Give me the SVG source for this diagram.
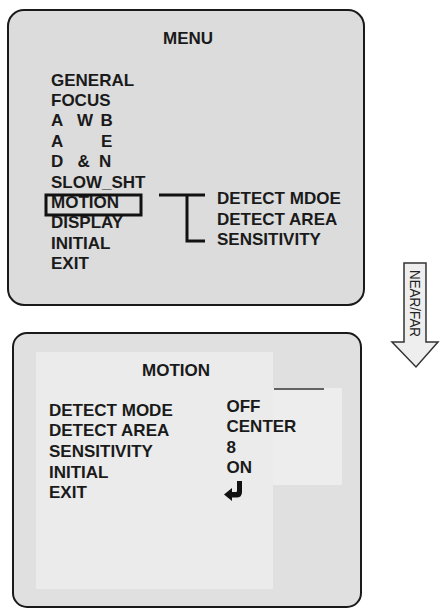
<svg xmlns="http://www.w3.org/2000/svg" width="440" height="609" viewBox="0 0 440 609">
<style>
.t{font-family:"Liberation Sans",Arial,sans-serif;font-weight:bold;font-size:17px;fill:#1a1a1a}
.title{text-anchor:middle}
.box{stroke:#1a1a1a;stroke-width:2}
.br{fill:none;stroke:#111;stroke-width:3}
</style>
<rect width="440" height="609" fill="#ffffff"/>
<g id="menu">
<rect class="box" x="8" y="10" width="356" height="295" rx="16" fill="#dcdcdc"/>
<text class="t title" x="188" y="44" font-size="16">MENU</text>
<text class="t" x="51" y="86">GENERAL</text>
<text class="t" x="51" y="106">FOCUS</text>
<text class="t" y="126"><tspan x="51">A</tspan> <tspan x="77">W</tspan> <tspan x="100.5">B</tspan></text>
<text class="t" y="147"><tspan x="51">A</tspan> <tspan x="101">E</tspan></text>
<text class="t" y="167"><tspan x="51">D</tspan> <tspan x="77.5">&amp;</tspan> <tspan x="99">N</tspan></text>
<text class="t" x="51" y="187.5">SLOW_SHT</text>
<text class="t" x="51" y="208">MOTION</text>
<rect x="46" y="195" width="95" height="20" fill="none" stroke="#111" stroke-width="3"/>
<text class="t" x="51" y="228">DISPLAY</text>
<text class="t" x="51" y="249">INITIAL</text>
<text class="t" x="51" y="269">EXIT</text>
</g>
<g id="submenu-list">
<text class="t" x="217" y="204">DETECT MDOE</text>
<text class="t" x="217" y="225">DETECT AREA</text>
<text class="t" x="217" y="245">SENSITIVITY</text>
</g>
<g id="connectors">
<path class="br" d="M159,195 H205 M187,195 V241 H205"/>
</g>
<g id="near-far">
<path d="M404,263 H426 V342 H438 L416,367 L392,342 H404 Z" fill="#eeeeee" stroke="#333" stroke-width="1.5" stroke-linejoin="miter"/>
<text x="0" y="0" transform="translate(409.5,270) rotate(90)" font-family="'Liberation Sans',Arial,sans-serif" font-size="15" fill="#222" textLength="67" lengthAdjust="spacingAndGlyphs">NEAR/FAR</text>
</g>
<g id="motion">
<rect class="box" x="13" y="333" width="348" height="274" rx="14" fill="#e0e0e0"/>
<rect x="36" y="352" width="237" height="237" fill="#ebebeb"/>
<rect x="273" y="388" width="69" height="97" fill="#ededed"/>
<line x1="274" y1="389" x2="324" y2="389" stroke="#333" stroke-width="1.5"/>
<text class="t title" x="176" y="376">MOTION</text>
<text class="t" x="49" y="416">DETECT MODE</text>
<text class="t" x="49" y="436">DETECT AREA</text>
<text class="t" x="49" y="456.5">SENSITIVITY</text>
<text class="t" x="49" y="477.5">INITIAL</text>
<text class="t" x="49" y="497.5">EXIT</text>
<text class="t" x="226.5" y="411.5">OFF</text>
<text class="t" x="226.5" y="432">CENTER</text>
<text class="t" x="226.5" y="452.5">8</text>
<text class="t" x="226.5" y="473">ON</text>
<path d="M237,481 H242 V492 Q242,497.5 236.5,497.5 H232 V501 L224,494.5 L232,488 V492 H236 Q237,492 237,491 Z" fill="#111"/>
</g>
</svg>
